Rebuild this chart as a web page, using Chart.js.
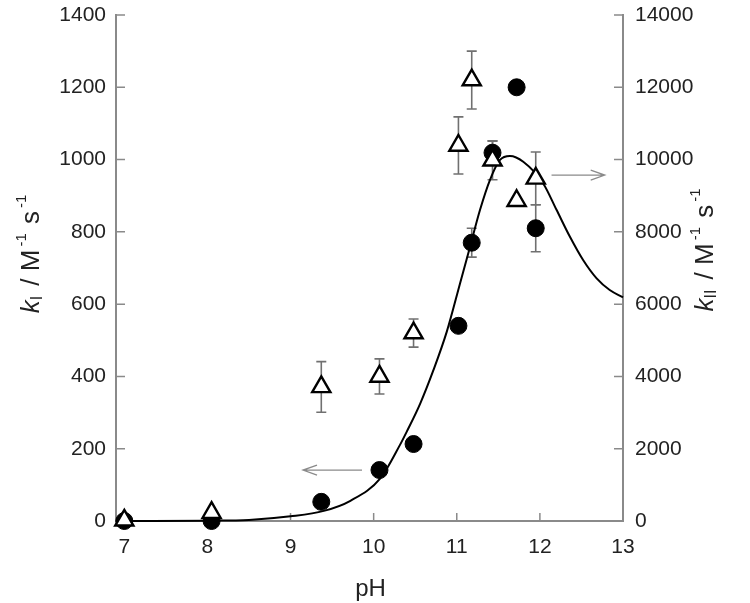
<!DOCTYPE html>
<html>
<head>
<meta charset="utf-8">
<script src="https://cdn.jsdelivr.net/npm/chart.js@4.4.1/dist/chart.umd.min.js"></script>
<style>
  html, body { margin: 0; padding: 0; background: #fff; }
  #wrap { width: 750px; height: 603px; }
</style>
</head>
<body>
<div id="wrap"><canvas id="chart" width="750" height="603"></canvas></div>
<script>
// measured points (shared pH values)
const pH = [7.0, 8.05, 9.37, 10.07, 10.48, 11.02, 11.18, 11.43, 11.72, 11.95];
const kI = [0, 0, 53, 141, 213, 540, 770, 1019, 1200, 810];          // filled circles, left axis
const kIErr = [0, 0, 0, 0, 0, 0, 40, 32, 0, 65];
const kII = [20, 230, 3710, 4000, 5200, 10390, 12200, 9980, 8860, 9480]; // open triangles, right axis
const kIIErr = [0, 0, 700, 485, 390, 790, 800, 540, 0, 730];

// fitted curve (left axis)
const fitPH = [7.0, 8.0, 8.5, 9.0, 9.4, 9.72, 10.08, 10.32, 10.40, 10.56, 10.72, 10.88, 11.04, 11.16, 11.28, 11.40, 11.52, 11.64, 11.80, 12.04, 12.20, 12.36, 12.52, 12.68, 12.84, 13.0];
const fitK = [0, 1, 3, 13, 28, 56, 118, 212, 248, 325, 418, 524, 658, 759, 861, 944, 999, 1010, 994, 934, 861, 787, 722, 672, 639, 619];

// tick labels
const xTicks = [7, 8, 9, 10, 11, 12, 13];
const yLeftTicks = [0, 200, 400, 600, 800, 1000, 1200, 1400];
const yRightTicks = [0, 2000, 4000, 6000, 8000, 10000, 12000, 14000];

// arrows that point each data set to its axis (pH from, pH to, value on left axis)
const arrowLeft = [9.86, 9.15, 141];
const arrowRight = [12.14, 12.78, 957];

const FONT = '"Liberation Sans", Arial, Helvetica, sans-serif';
const axisColor = '#8a8a8a';
const textColor = '#222';

function drawRich(ctx, runs, cx, cy) {
  let total = 0;
  runs.forEach(r => {
    ctx.font = r.font;
    r.w = ctx.measureText(r.t).width + (r.gap || 0);
    total += r.w;
  });
  let x = cx - total / 2;
  runs.forEach(r => {
    ctx.font = r.font;
    ctx.fillText(r.t, x, cy + (r.dy || 0));
    x += r.w;
  });
}

function axisTitle(sub) {
  return [
    { t: 'k', font: 'italic 26px ' + FONT },
    { t: sub, font: '16px ' + FONT, dy: 6, gap: 3 },
    { t: ' / M', font: '26px ' + FONT, gap: 3 },
    { t: '-1', font: '15px ' + FONT, dy: -10, gap: 2 },
    { t: ' s', font: '26px ' + FONT, gap: 3 },
    { t: '-1', font: '15px ' + FONT, dy: -10 }
  ];
}

function arrow(ctx, x1, x2, y) {
  const dir = Math.sign(x2 - x1);
  ctx.beginPath();
  ctx.moveTo(x1, y);
  ctx.lineTo(x2, y);
  ctx.moveTo(x2 - dir * 14, y - 5);
  ctx.lineTo(x2, y);
  ctx.lineTo(x2 - dir * 14, y + 5);
  ctx.stroke();
}

const extras = {
  id: 'extras',
  beforeDatasetsDraw(chart) {
    const { ctx, chartArea: a, scales: { x, y, y2 } } = chart;
    ctx.save();
    ctx.strokeStyle = axisColor;
    ctx.lineWidth = 1.5;
    ctx.beginPath();
    xTicks.forEach(v => {
      const px = x.getPixelForValue(v);
      ctx.moveTo(px, a.bottom);
      ctx.lineTo(px, a.bottom - 8);
    });
    yLeftTicks.forEach(v => {
      const py = y.getPixelForValue(v);
      ctx.moveTo(a.left, py);
      ctx.lineTo(a.left + 9, py);
    });
    yRightTicks.forEach(v => {
      const py = y2.getPixelForValue(v);
      ctx.moveTo(a.right, py);
      ctx.lineTo(a.right - 9, py);
    });
    ctx.stroke();

    // error bars
    ctx.strokeStyle = '#707070';
    ctx.lineWidth = 1.6;
    const bars = (vals, errs, scale) => {
      vals.forEach((v, i) => {
        if (!errs[i]) return;
        const px = x.getPixelForValue(pH[i]);
        const top = scale.getPixelForValue(v + errs[i]);
        const bot = scale.getPixelForValue(v - errs[i]);
        ctx.beginPath();
        ctx.moveTo(px, top); ctx.lineTo(px, bot);
        ctx.moveTo(px - 5, top); ctx.lineTo(px + 5, top);
        ctx.moveTo(px - 5, bot); ctx.lineTo(px + 5, bot);
        ctx.stroke();
      });
    };
    bars(kI, kIErr, y);
    bars(kII, kIIErr, y2);
    ctx.restore();
  },
  afterDraw(chart) {
    const { ctx, chartArea: a, scales: { x, y } } = chart;
    ctx.save();
    ctx.strokeStyle = '#8a8a8a';
    ctx.lineWidth = 1.3;
    arrow(ctx, x.getPixelForValue(arrowLeft[0]), x.getPixelForValue(arrowLeft[1]), y.getPixelForValue(arrowLeft[2]));
    arrow(ctx, x.getPixelForValue(arrowRight[0]), x.getPixelForValue(arrowRight[1]), y.getPixelForValue(arrowRight[2]));

    ctx.fillStyle = textColor;
    ctx.textBaseline = 'middle';
    ctx.textAlign = 'left';
    ctx.save();
    ctx.translate(32, 254);
    ctx.rotate(-Math.PI / 2);
    drawRich(ctx, axisTitle('I'), 0, 0);
    ctx.restore();
    ctx.save();
    ctx.translate(706, 250);
    ctx.rotate(-Math.PI / 2);
    drawRich(ctx, axisTitle('II'), 0, 0);
    ctx.restore();

    ctx.textBaseline = 'alphabetic';
    ctx.textAlign = 'center';
    ctx.font = '24px ' + FONT;
    ctx.fillText('pH', (a.left + a.right) / 2 + 1, 596);
    ctx.restore();
  }
};

const tickFont = { family: FONT, size: 21 };
const plain = v => String(v);
// fixed axis sizes so the plot area lands where the original has it
const fitY = w => s => { s.width = w; s.paddingTop = 0; s.paddingBottom = 0; };

new Chart(document.getElementById('chart'), {
  type: 'scatter',
  data: {
    datasets: [
      {
        label: 'kII',
        data: pH.map((p, i) => ({ x: p, y: kII[i] })),
        yAxisID: 'y2',
        pointStyle: 'triangle',
        pointRadius: 10.5,
        pointBackgroundColor: '#fff',
        pointBorderColor: '#000',
        pointBorderWidth: 2.4,
        clip: false,
        order: 0
      },
      {
        label: 'kI',
        data: pH.map((p, i) => ({ x: p, y: kI[i] })),
        yAxisID: 'y',
        pointStyle: 'circle',
        pointRadius: 8.5,
        pointBackgroundColor: '#000',
        pointBorderColor: '#000',
        pointBorderWidth: 1,
        clip: false,
        order: 1
      },
      {
        type: 'line',
        label: 'fit',
        data: fitPH.map((p, i) => ({ x: p, y: fitK[i] })),
        yAxisID: 'y',
        borderColor: '#000',
        borderWidth: 2,
        pointRadius: 0,
        cubicInterpolationMode: 'monotone',
        fill: false,
        clip: false,
        order: 2
      }
    ]
  },
  options: {
    responsive: false,
    animation: false,
    devicePixelRatio: 1,
    layout: { padding: { top: 15, left: 0, right: 0, bottom: 0 } },
    plugins: { legend: { display: false }, tooltip: { enabled: false } },
    scales: {
      x: {
        type: 'linear',
        min: 6.9,
        max: 13,
        afterBuildTicks: s => { s.ticks = xTicks.map(v => ({ value: v })); },
        afterFit: s => { s.height = 82; s.paddingLeft = 0; s.paddingRight = 0; },
        grid: { display: false, drawTicks: false },
        border: { display: true, color: axisColor, width: 2 },
        ticks: { font: tickFont, color: textColor, padding: 14, maxRotation: 0, autoSkip: false, callback: plain }
      },
      y: {
        position: 'left',
        min: 0,
        max: 1400,
        afterBuildTicks: s => { s.ticks = yLeftTicks.map(v => ({ value: v })); },
        afterFit: fitY(116),
        grid: { display: false, drawTicks: false },
        border: { display: true, color: axisColor, width: 2 },
        ticks: { font: tickFont, color: textColor, padding: 10, callback: plain }
      },
      y2: {
        position: 'right',
        min: 0,
        max: 14000,
        afterBuildTicks: s => { s.ticks = yRightTicks.map(v => ({ value: v })); },
        afterFit: fitY(127),
        grid: { display: false, drawTicks: false },
        border: { display: true, color: axisColor, width: 2 },
        ticks: { font: tickFont, color: textColor, padding: 12, callback: plain }
      }
    }
  },
  plugins: [extras]
});
</script>
</body>
</html>
